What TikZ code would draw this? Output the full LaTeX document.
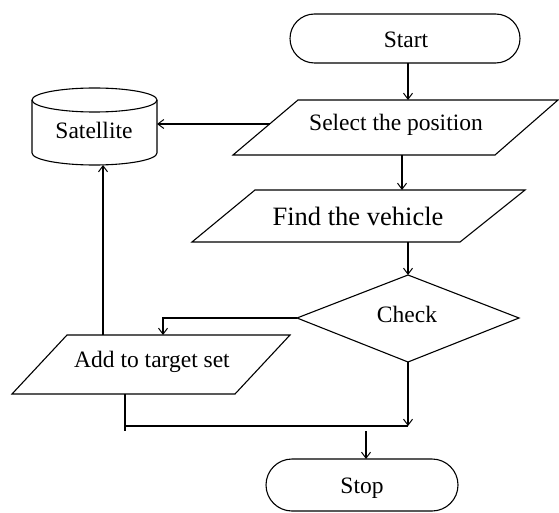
\documentclass[tikz,border=0pt]{standalone}
\usepackage{fontspec}
\setmainfont{Liberation Serif}
\usetikzlibrary{arrows.meta}
\begin{document}
\begin{tikzpicture}[x=1pt,y=-1pt,line width=1.1pt,
  outl/.style={draw,line width=1.1pt},
  lbl/.style={inner sep=0pt,font=\fontsize{23.5}{26}\selectfont},
  arr/.style={-{Straight Barb[length=6pt,width=9pt,line width=1pt]}}]
\useasboundingbox (0,0) rectangle (559,513);
% Start
\draw[outl,rounded corners=24.5pt] (290,14) rectangle (520,63);
\node[lbl] (start) at (406,40) {Start};
\coordinate (startb) at (408,63);
% Select
\draw[outl] (298,100) -- (558,100) -- (495,155) -- (233,155) -- cycle;
\node[lbl] (select) at (396,125) {Select the position};
\coordinate (selt) at (408,100);
\coordinate (selb) at (402,155);
\coordinate (sell) at (270,124);
% Find
\draw[outl] (255,190) -- (525,190) -- (460,242) -- (192,242) -- cycle;
\node[lbl,font=\fontsize{26.5}{29}\selectfont] (find) at (358,216) {Find the vehicle};
\coordinate (findt) at (402,190);
\coordinate (findb) at (408,242);
% Check
\draw[outl] (408,275) -- (519,318) -- (408,362) -- (297,318) -- cycle;
\node[lbl] (check) at (407,314) {Check};
\coordinate (chkt) at (408,275);
\coordinate (chkl) at (297,318);
\coordinate (chkb) at (408,362);
% Add
\draw[outl] (67,335) -- (290,335) -- (235,394) -- (12,394) -- cycle;
\node[lbl] (add) at (152,362) {Add to target set};
\coordinate (addt) at (163,335);
\coordinate (addu) at (103,335);
\coordinate (addb) at (125,394);
% Satellite
\draw[outl] (94.5,100) ellipse [x radius=62.5, y radius=12];
\draw[outl] (32,100) -- (32,153) arc[start angle=180,end angle=360,x radius=62.5,y radius=-12] -- (157,100);
\node[lbl] (sat) at (94,130) {Satellite};
\coordinate (satr) at (157,124);
\coordinate (satb) at (103,165);
% Stop
\draw[outl,rounded corners=26pt] (266,459) rectangle (458,511);
\node[lbl] (stop) at (362,488) {Stop};
\coordinate (stopt) at (366,459);
% connectors
\coordinate (j1) at (163,318);
\coordinate (j2) at (125,426);
\coordinate (j3) at (408,426);
\coordinate (j4) at (366,431);
\draw[arr] (startb) -- (selt);
\draw[arr] (selb) -- (findt);
\draw[arr] (findb) -- (chkt);
\draw[arr] (sell) -- (satr);
\draw[arr] (chkl) -- (j1) -- (addt);
\draw[arr] (addu) -- (satb);
\draw (addb) -- (125,431);
\draw (j2) -- (j3);
\draw[arr] (chkb) -- (j3);
\draw[arr] (j4) -- (stopt);
\end{tikzpicture}
\end{document}
